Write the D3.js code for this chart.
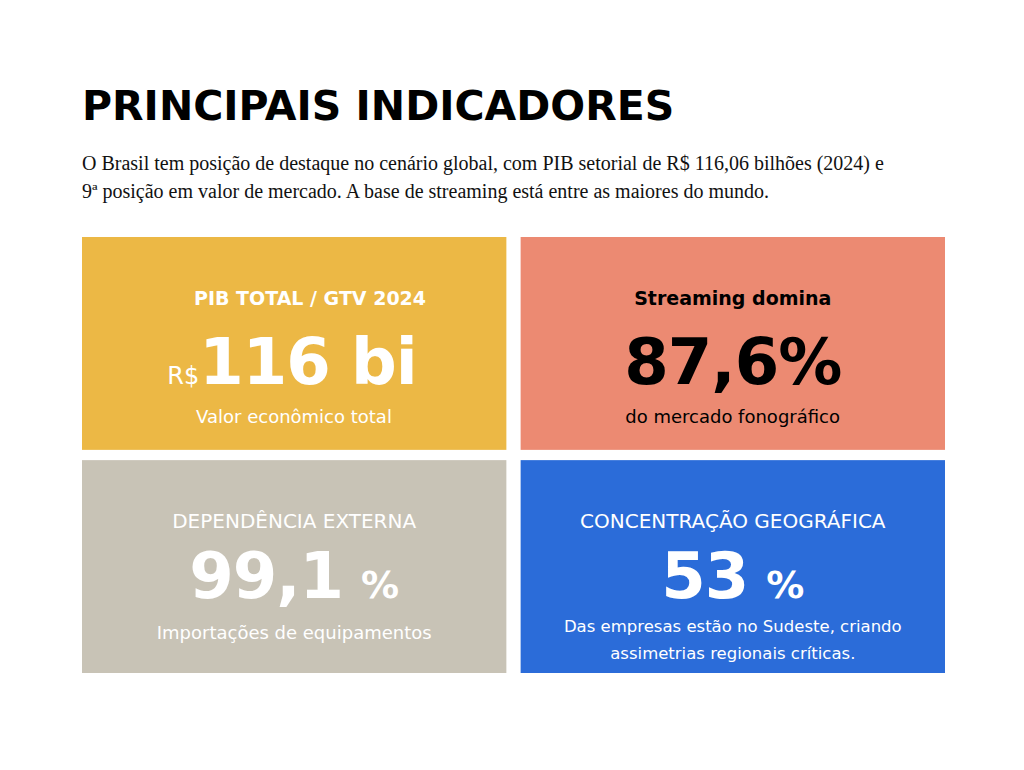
<!DOCTYPE html>
<meta charset="utf-8">
<style>
body { margin: 0; background: #fff; }
svg { display: block; }
.title { font: bold 41px "DejaVu Sans", sans-serif; fill: #000; }
.sub { font: 20px "Liberation Serif", serif; fill: #111; }
</style>
<body>
<div id="chart"></div>
<script src="https://cdnjs.cloudflare.com/ajax/libs/d3/7.8.5/d3.min.js"></script>
<script>
var title = "PRINCIPAIS INDICADORES";
var subtitle = ["O Brasil tem posição de destaque no cenário global, com PIB setorial de R$ 116,06 bilhões (2024) e",
                "9ª posição em valor de mercado. A base de streaming está entre as maiores do mundo."];
var headers = ["PIB TOTAL / GTV 2024", "Streaming domina", "DEPENDÊNCIA EXTERNA", "CONCENTRAÇÃO GEOGRÁFICA"];
var prefixes = ["R$", "", "", ""];
var bigValues = ["116 bi", "87,6%", "99,1", "53"];
var suffixes = ["", "", "%", "%"];
var notes = [["Valor econômico total"], ["do mercado fonográfico"], ["Importações de equipamentos"],
             ["Das empresas estão no Sudeste, criando", "assimetrias regionais críticas."]];
var colors = ["#ECB845", "#EC8A72", "#C8C3B6", "#2B6CD9"];
var textColors = ["#fff", "#000", "#fff", "#fff"];
var headWeights = [700, 700, 400, 400];

var svg = d3.select("#chart").append("svg").attr("width", 1024).attr("height", 770);

svg.append("text").attr("class", "title").attr("x", 82).attr("y", 120).text(title);
svg.selectAll(".sub").data(subtitle).enter().append("text").attr("class", "sub")
  .attr("x", 82).attr("y", function(d, i) { return 170 + i * 28; }).text(function(d) { return d; });

var x = d3.scaleBand().domain([0, 1]).range([82, 945]).paddingInner(0.0325);
var y = d3.scaleBand().domain([0, 1]).range([237, 673]).paddingInner(0.046);

var cards = d3.range(4).map(function(i) { return {i: i, col: i % 2, row: Math.floor(i / 2)}; });
var g = svg.selectAll(".card").data(cards).enter().append("g")
  .attr("transform", function(d) { return "translate(" + x(d.col) + "," + y(d.row) + ")"; });

var w = x.bandwidth(), h = y.bandwidth();
g.append("rect").attr("width", w).attr("height", h).attr("fill", function(d) { return colors[d.i]; });

var font = "'DejaVu Sans', sans-serif";
g.append("text").attr("x", function(d) { return d.i == 0 ? 228 : w / 2; }).attr("y", 68)
  .attr("text-anchor", "middle").style("font-family", font)
  .style("font-size", function(d) { return d.row == 0 ? "19px" : "20px"; })
  .style("font-weight", function(d) { return headWeights[d.i]; })
  .attr("fill", function(d) { return textColors[d.i]; })
  .text(function(d) { return headers[d.i]; });

var big = g.append("text").attr("x", function(d) { return d.i == 0 ? 210 : w / 2; })
  .attr("y", function(d) { return d.row == 0 ? 147 : 138; })
  .attr("text-anchor", "middle").style("font-family", font)
  .attr("fill", function(d) { return textColors[d.i]; });
big.append("tspan").style("font-size", "24px").style("font-weight", 400)
  .text(function(d) { return prefixes[d.i]; });
big.append("tspan").style("font-size", "64px").style("font-weight", 700).attr("letter-spacing", "-1px")
  .text(function(d) { return bigValues[d.i]; });
big.append("tspan").style("font-size", "38px").style("font-weight", 700).attr("dx", 18)
  .text(function(d) { return suffixes[d.i]; });

g.each(function(d) {
  d3.select(this).selectAll(".note").data(notes[d.i]).enter().append("text")
    .attr("x", d.i < 2 ? 212 : w / 2)
    .attr("y", function(t, j) { return (d.row == 0 ? 186 : (notes[d.i].length > 1 ? 172 : 179)) + j * 27; })
    .attr("text-anchor", "middle").style("font-family", font)
    .style("font-size", function() { return notes[d.i].length > 1 ? "16.5px" : "18px"; })
    .style("font-weight", 400).attr("fill", textColors[d.i])
    .text(function(t) { return t; });
});
</script>
</body>
